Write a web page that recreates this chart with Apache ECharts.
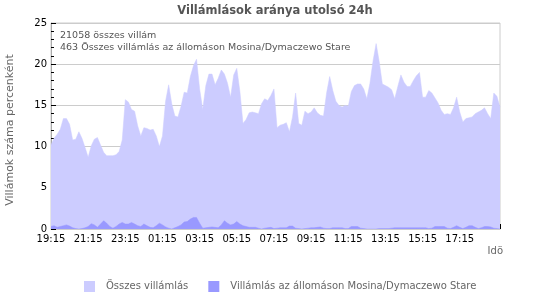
<!DOCTYPE html>
<html>
<head>
<meta charset="utf-8">
<script src="https://cdn.jsdelivr.net/npm/echarts@6/dist/echarts.min.js"></script>
<style>html,body{margin:0;padding:0;background:#fff}#c{width:550px;height:300px}</style>
</head>
<body>
<div id="c"></div>
<script>
const titleText = 'Villámlások aránya utolsó 24h';
const yAxisTitle = 'Villámok száma percenként';
const xAxisTitle = 'Idö';
const infoLines = ['21058 összes villám', '463 Összes villámlás az állomáson Mosina/Dymaczewo Stare'];
const seriesNames = ['Összes villámlás', 'Villámlás az állomáson Mosina/Dymaczewo Stare'];
const stepMinutes = 10;
const xTickLabels = ['19:15','21:15','23:15','01:15','03:15','05:15','07:15','09:15','11:15','13:15','15:15','17:15'];
const yTicks = [0, 5, 10, 15, 20, 25];

const totalStrikes = [
10.2,11.0,11.5,12.1,13.4,13.4,12.7,10.8,10.9,11.8,11.0,9.9,8.7,10.1,10.9,11.1,10.2,9.3,8.9,8.9,
8.9,9.0,9.4,10.8,15.7,15.4,14.5,14.3,12.5,11.3,12.3,12.2,12.0,12.1,11.3,10.0,11.3,15.5,17.5,15.2,
13.7,13.6,14.9,16.6,16.5,18.5,19.8,20.6,17.0,14.5,17.4,18.8,18.8,17.5,18.3,19.3,18.8,17.7,16.0,18.7,
19.5,16.7,12.8,13.3,14.1,14.2,14.1,14.0,15.2,15.8,15.6,16.2,17.0,12.3,12.6,12.7,12.9,11.8,13.6,16.5,
12.8,12.6,14.3,14.0,14.2,14.7,14.1,13.8,13.7,16.5,18.5,16.8,15.5,15.0,14.8,15.0,14.9,16.7,17.4,17.6,
17.6,17.0,15.8,17.7,20.4,22.5,20.3,17.6,17.4,17.2,16.9,15.8,17.3,18.7,17.8,17.3,17.3,18.0,18.6,19.0,
16.0,16.0,16.8,16.5,15.9,15.3,14.4,13.9,14.0,13.9,14.7,16.0,14.2,13.0,13.4,13.5,13.6,14.0,14.2,14.4,
14.7,14.0,13.4,16.5,16.1,14.8];

const stationStrikes = [
0.3,0.4,0.2,0.3,0.4,0.5,0.35,0.15,0.05,0,0.05,0.15,0.3,0.65,0.5,0.2,0.6,1.0,0.7,0.3,
0.1,0.3,0.6,0.8,0.6,0.6,0.8,0.6,0.4,0.3,0.6,0.4,0.2,0.15,0.4,0.7,0.5,0.25,0.1,0,
0.15,0.3,0.5,0.85,0.9,1.2,1.4,1.4,0.7,0.1,0.15,0.2,0.25,0.2,0.15,0.5,1.0,0.7,0.5,0.6,
0.9,0.6,0.4,0.3,0.2,0.2,0.2,0.1,0,0.1,0.15,0.2,0.05,0.1,0.15,0.15,0.15,0.35,0.35,0.1,
0.05,0,0.05,0.1,0.15,0.15,0.2,0.25,0.1,0.05,0.05,0.15,0.15,0.15,0.15,0.05,0.05,0.3,0.3,0.3,
0.1,0.05,0,0,0,0,0.05,0.05,0.05,0.05,0.1,0.15,0.15,0.15,0.15,0.15,0.15,0.15,0.15,0.15,
0.15,0.15,0.05,0.1,0.3,0.3,0.3,0.3,0.1,0.05,0.2,0.4,0.2,0.05,0.2,0.4,0.4,0.2,0.05,0.15,
0.3,0.3,0.25,0.1,0.05,0];

const toPairs = arr => arr.map((v, i) => [i * stepMinutes, v]);
const xMax = (totalStrikes.length - 1) * stepMinutes;
const FONT = 'DejaVu Sans';

const chart = echarts.init(document.getElementById('c'), null, {renderer: 'canvas'});
chart.setOption({
  animation: false,
  textStyle: {fontFamily: FONT},
  title: {
    text: titleText, left: 'center', top: 5, padding: 0,
    textStyle: {fontFamily: FONT, fontSize: 11.5, fontWeight: 'bold', color: '#555'}
  },
  grid: {left: 51, right: 50, top: 23, bottom: 71, show: true, borderColor: '#ccc', borderWidth: 1, backgroundColor: '#fff'},
  legend: {
    left: 84, top: 281, padding: 0, itemWidth: 11, itemHeight: 11, itemGap: 20, icon: 'rect',
    textStyle: {fontFamily: FONT, fontSize: 10, color: '#666', padding: [0,0,0,6]},
    data: seriesNames
  },
  xAxis: {
    type: 'value', min: 0, max: xMax, interval: 120,
    axisLine: {show: true, lineStyle: {color: '#ccc'}},
    axisTick: {show: true, inside: true, length: 5, lineStyle: {color: '#000'}},
    minorTick: {show: true, splitNumber: 4, length: 3, lineStyle: {color: '#000'}},
    splitLine: {show: false},
    axisLabel: {
      fontFamily: FONT, fontSize: 10, color: '#000', margin: 5,
      formatter: v => xTickLabels[Math.round(v / 120)] || ''
    }
  },
  yAxis: {
    type: 'value', min: yTicks[0], max: yTicks[yTicks.length - 1], interval: 5,
    axisLine: {show: true, lineStyle: {color: '#aaa'}},
    axisTick: {show: true, inside: true, length: 5, lineStyle: {color: '#000'}},
    minorTick: {show: true, splitNumber: 5, length: 3, lineStyle: {color: '#000'}},
    splitLine: {show: true, lineStyle: {color: '#ccc'}},
    axisLabel: {fontFamily: FONT, fontSize: 10, color: '#000', margin: 4}
  },
  graphic: [
    {type: 'text', left: 60, top: 31, style: {text: infoLines[0], font: '9.5px "DejaVu Sans"', fill: '#555'}},
    {type: 'text', left: 60, top: 42.5, style: {text: infoLines[1], font: '9.5px "DejaVu Sans"', fill: '#555'}},
    {type: 'text', x: 10, y: 130, rotation: Math.PI / 2, style: {text: yAxisTitle, font: '11px "DejaVu Sans"', fill: '#666', align: 'center', verticalAlign: 'middle'}},
    {type: 'text', right: 47, top: 246, style: {text: xAxisTitle, font: '10px "DejaVu Sans"', fill: '#666'}}
  ],
  series: [
    {
      name: seriesNames[0], type: 'line', data: toPairs(totalStrikes),
      showSymbol: false, symbol: 'none',
      lineStyle: {width: 0.5, color: '#ccccff'},
      itemStyle: {color: '#ccccff'},
      areaStyle: {color: '#ccccff', opacity: 1}, z: 2
    },
    {
      name: seriesNames[1], type: 'line', data: toPairs(stationStrikes),
      showSymbol: false, symbol: 'none',
      lineStyle: {width: 0.5, color: '#9999ff'},
      itemStyle: {color: '#9999ff'},
      areaStyle: {color: '#9999ff', opacity: 1}, z: 3
    }
  ]
});
</script>
</body>
</html>
